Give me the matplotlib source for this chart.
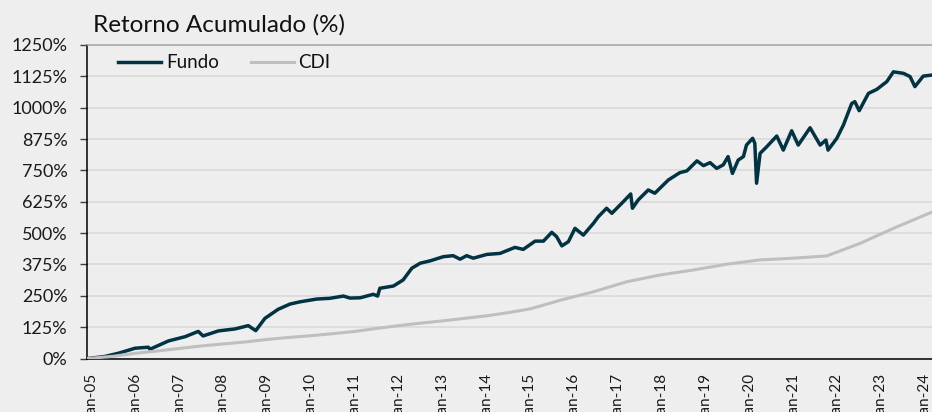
import matplotlib
matplotlib.use("Agg")
import matplotlib.pyplot as plt

# ---- data (decimal years, cumulative return %) ----
fund_t = [2004.92, 2005.30, 2005.61, 2005.99, 2006.29, 2006.33, 2006.75, 2007.13, 2007.43, 2007.54,
          2007.89, 2008.27, 2008.57, 2008.74, 2008.95, 2009.25, 2009.52, 2009.75, 2010.13, 2010.43,
          2010.74, 2010.89, 2011.12, 2011.42, 2011.52, 2011.57, 2011.88, 2012.10, 2012.30, 2012.49,
          2012.71, 2013.02, 2013.24, 2013.40, 2013.55, 2013.70, 2014.01, 2014.31, 2014.65, 2014.84,
          2015.11, 2015.30, 2015.49, 2015.60, 2015.72, 2015.87, 2016.02, 2016.21, 2016.44, 2016.55,
          2016.74, 2016.86, 2017.12, 2017.29, 2017.33, 2017.46, 2017.69, 2017.84, 2018.15, 2018.41,
          2018.57, 2018.80, 2018.95, 2019.10, 2019.25, 2019.40, 2019.51, 2019.61, 2019.74, 2019.86,
          2019.93, 2020.07, 2020.12, 2020.16, 2020.24, 2020.39, 2020.62, 2020.77, 2020.96, 2021.11,
          2021.38, 2021.61, 2021.74, 2021.79, 2021.99, 2022.14, 2022.33, 2022.40, 2022.50, 2022.71,
          2022.90, 2023.13, 2023.28, 2023.51, 2023.66, 2023.77, 2023.96, 2024.15]
fund_v = [0, 8, 21, 41, 45, 37, 70, 87, 108, 90,
          110, 118, 131, 111, 160, 196, 217, 226, 237, 240,
          249, 241, 242, 256, 249, 280, 289, 313, 360, 380,
          389, 406, 410, 396, 410, 400, 415, 419, 443, 435,
          468, 468, 503, 486, 449, 466, 519, 492, 539, 565,
          599, 579, 625, 656, 599, 632, 672, 659, 712, 741,
          748, 788, 769, 781, 758, 772, 805, 738, 791, 805,
          851, 878, 858, 699, 818, 844, 887, 831, 908, 851,
          920, 851, 871, 831, 878, 931, 1017, 1024, 988, 1057,
          1073, 1104, 1143, 1137, 1124, 1084, 1126, 1130]

cdi_t = [2004.92, 2005.5, 2006.0, 2006.5, 2007.0, 2007.5, 2008.0, 2008.5, 2009.0, 2009.5,
         2010.0, 2010.5, 2011.0, 2011.5, 2012.0, 2012.5, 2013.0, 2013.5, 2014.0, 2014.5,
         2015.0, 2015.7, 2016.44, 2017.2, 2017.96, 2018.72, 2019.48, 2020.23, 2021.0, 2021.76,
         2022.52, 2023.28, 2024.15]
cdi_v = [0, 9, 21, 30, 40, 50, 58, 66, 76, 84,
         91, 99, 108, 120, 131, 141, 150, 160, 170, 183,
         198, 233, 266, 306, 333, 353, 376, 393, 400, 409,
         459, 519, 583]

years = list(range(2005, 2025))
xtick_labels = ["Jan-%02d" % (y % 100) for y in years]
yticks = [0, 125, 250, 375, 500, 625, 750, 875, 1000, 1125, 1250]
ytick_labels = ["%d%%" % v for v in yticks]

series_names = ["Fundo", "CDI"]
title = "Retorno Acumulado (%)"

# ---- figure ----
W, H = 932, 412
fig = plt.figure(figsize=(W / 100, H / 100), dpi=100, facecolor="#eeeeee")
ax = fig.add_axes([87 / W, (H - 358.5) / H, (W - 87) / W, (358.5 - 45) / H])
ax.set_facecolor("#eeeeee")

font = "Lato"

ax.plot(fund_t, fund_v, color="#023343", lw=2.5, label=series_names[0], zorder=3,
        solid_joinstyle="round")
ax.plot(cdi_t, cdi_v, color="#bfbfbf", lw=2.2, label=series_names[1], zorder=4)

ax.set_xlim(2004.893, 2024.16)
ax.set_ylim(0, 1250)

ax.set_yticks(yticks)
ax.set_yticklabels(ytick_labels, fontfamily=font, fontsize=13, color="#1a1a1a")
ax.set_xticks(years)
ax.set_xticklabels(xtick_labels, rotation=90, fontfamily=font, fontsize=11, color="#1a1a1a",
                   va="top", ha="center")

ax.tick_params(axis="y", direction="out", length=5, width=1, color="#404040", pad=9)
ax.tick_params(axis="x", length=0, pad=10)

ax.grid(axis="y", color="#d9d9d9", lw=1.1, zorder=0)
ax.set_axisbelow(True)

ax.spines["right"].set_visible(False)
ax.spines["top"].set_color("#a6a6a6")
ax.spines["top"].set_linewidth(1.1)
ax.spines["left"].set_color("#000000")
ax.spines["left"].set_linewidth(1.1)
ax.spines["bottom"].set_color("#000000")
ax.spines["bottom"].set_linewidth(1.1)

fig.text(93 / W, 1 - 31.5 / H, title, fontfamily=font, fontsize=17.5, color="#111111",
         va="baseline", ha="left")

leg = fig.legend(loc="center left", bbox_to_anchor=(118 / W, 1 - 63 / H), frameon=False,
                 ncol=2, prop={"family": font, "size": 13.5}, handlelength=2.3,
                 handletextpad=0.25, columnspacing=1.7, borderpad=0, borderaxespad=0)
for t in leg.get_texts():
    t.set_color("#111111")

fig.savefig("out.png", dpi=100, facecolor="#eeeeee")
